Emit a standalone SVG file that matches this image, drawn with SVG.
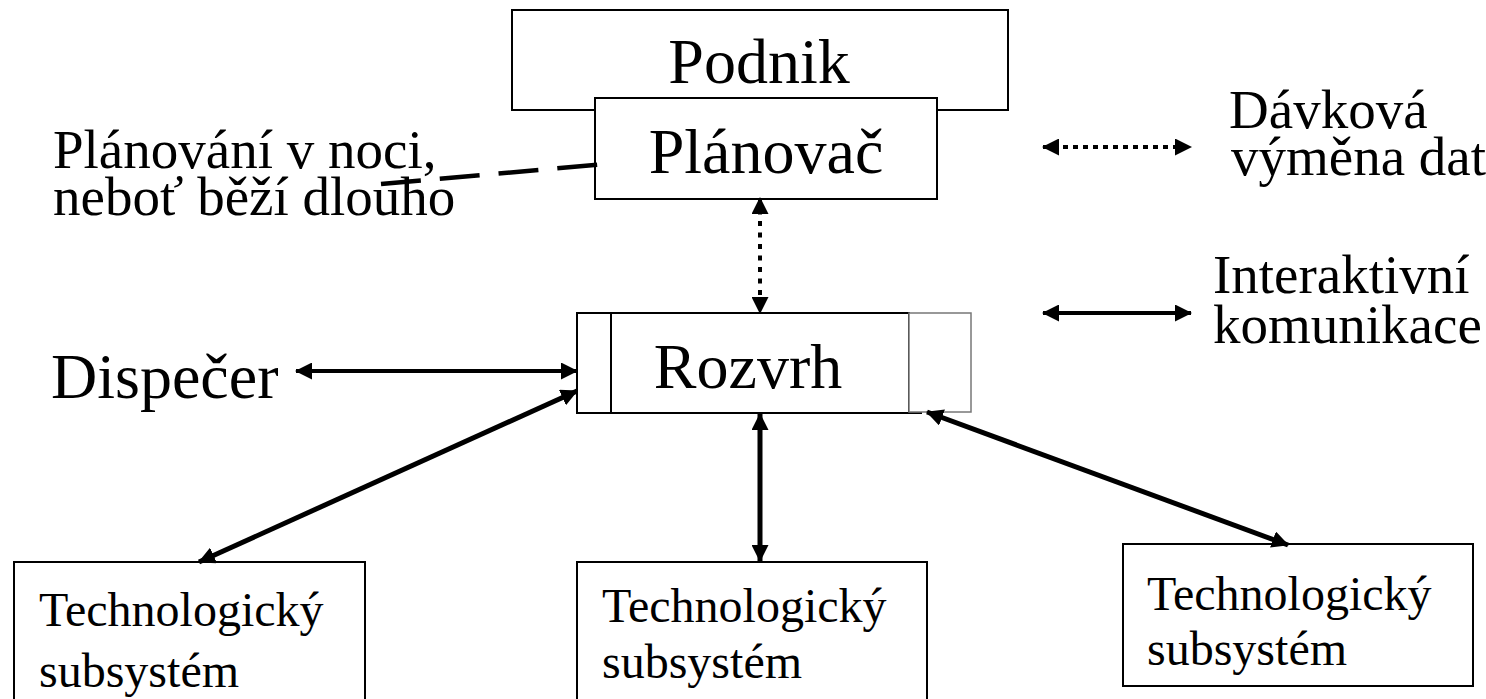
<svg xmlns="http://www.w3.org/2000/svg" width="1486" height="699" viewBox="0 0 1486 699">
<style>
  text { font-family: "Liberation Serif", "Times New Roman", serif; fill: #000; }
  .big { font-size: 64px; }
  .mid { font-size: 55px; }
  .small { font-size: 48px; }
  .box { fill: #fff; stroke: #000; stroke-width: 2; }
  .conn { fill: none; stroke: #000; }
</style>
<defs>
  <marker id="ah" viewBox="0 0 17 17" refX="16" refY="8.5" markerWidth="17" markerHeight="17" markerUnits="userSpaceOnUse" orient="auto-start-reverse">
    <path d="M0,0 L17,8.5 L0,17 z" fill="#000"/>
  </marker>
</defs>
<rect width="1486" height="699" fill="#fff"/>

<g id="podnik">
  <rect class="box" x="512" y="10" width="496" height="100"/>
  <text class="big" x="759" y="83" text-anchor="middle">Podnik</text>
</g>
<g id="planovac">
  <rect class="box" x="595" y="98" width="342" height="101"/>
  <text class="big" x="766" y="173" text-anchor="middle">Plánovač</text>
</g>
<g id="poznamka">
  <text class="mid" x="53" y="168">Plánování v noci,</text>
  <text class="mid" x="53" y="215">neboť běží dlouho</text>
</g>
<g id="dispecer">
  <text class="big" x="51" y="398">Dispečer</text>
</g>
<g id="rozvrh">
  <rect class="box" x="577" y="313" width="332" height="100"/>
  <line x1="611" y1="313" x2="611" y2="413" stroke="#000" stroke-width="2"/>
  <line x1="909" y1="413" x2="922" y2="413" stroke="#000" stroke-width="2"/>
  <rect x="909" y="313" width="62" height="99" fill="#fff" stroke="#777" stroke-width="1.5"/>
  <text class="big" x="748" y="388" text-anchor="middle">Rozvrh</text>
</g>
<g id="ts1">
  <rect class="box" x="14" y="562" width="351" height="140"/>
  <text class="small" x="39" y="626">Technologický</text>
  <text class="small" x="39" y="687">subsystém</text>
</g>
<g id="ts2">
  <rect class="box" x="577" y="562" width="350" height="140"/>
  <text class="small" x="602" y="622">Technologický</text>
  <text class="small" x="602" y="678">subsystém</text>
</g>
<g id="ts3">
  <rect class="box" x="1123" y="544" width="350" height="142"/>
  <text class="small" x="1147" y="610">Technologický</text>
  <text class="small" x="1147" y="665">subsystém</text>
</g>
<g id="legenda">
  <text class="mid" x="1229" y="128">Dávková</text>
  <text class="mid" x="1231" y="175">výměna dat</text>
  <text class="mid" x="1213" y="293">Interaktivní</text>
  <text class="mid" x="1213" y="343">komunikace</text>
</g>

<g id="connectors">
  <line class="conn" x1="381" y1="184" x2="605" y2="164" stroke-width="4.5" stroke-dasharray="40 19"/>
  <line class="conn" x1="760" y1="198" x2="760" y2="313" stroke-width="4" stroke-dasharray="5 6.5" marker-start="url(#ah)" marker-end="url(#ah)"/>
  <line class="conn" x1="296" y1="371" x2="577" y2="371" stroke-width="4" marker-start="url(#ah)" marker-end="url(#ah)"/>
  <line class="conn" x1="577" y1="391" x2="199" y2="562" stroke-width="5" marker-start="url(#ah)" marker-end="url(#ah)"/>
  <line class="conn" x1="760" y1="414" x2="760" y2="561" stroke-width="5" marker-start="url(#ah)" marker-end="url(#ah)"/>
  <line class="conn" x1="927" y1="412" x2="1288" y2="545" stroke-width="5" marker-start="url(#ah)" marker-end="url(#ah)"/>
  <line class="conn" x1="1043" y1="147" x2="1191" y2="147" stroke-width="4" stroke-dasharray="5 5" marker-start="url(#ah)" marker-end="url(#ah)"/>
  <line class="conn" x1="1043" y1="313" x2="1191" y2="313" stroke-width="4" marker-start="url(#ah)" marker-end="url(#ah)"/>
</g>
</svg>
